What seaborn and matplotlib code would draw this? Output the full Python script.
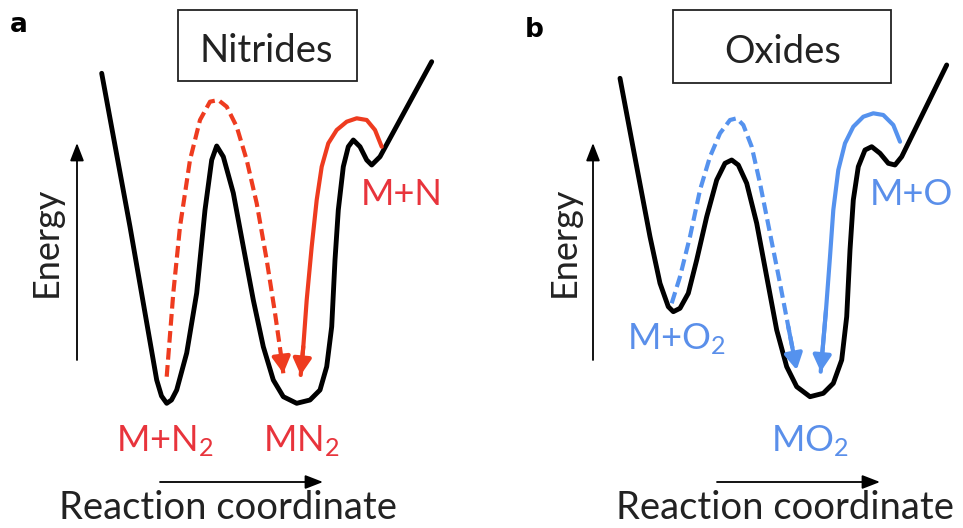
import matplotlib
matplotlib.use("Agg")
import matplotlib.pyplot as plt
import seaborn as sns
import pandas as pd
from matplotlib.patches import Rectangle

sns.set_theme(style="white")
plt.rcParams['font.family'] = ['Lato', 'DejaVu Sans']
plt.rcParams['mathtext.fontset'] = 'custom'
plt.rcParams['mathtext.rm'] = 'Lato'
plt.rcParams['mathtext.it'] = 'Lato'

# ---------------- data (schematic curves, image coordinates) ----------------
# panel a : nitrides
a_black_x = [101.7, 130, 156.7, 161.5, 166.7, 171.5, 176.7, 186.7, 196.7, 205, 211.7, 216.7, 223.3, 233.3, 243.3, 253.3, 263.3, 273.3, 283.3, 296.7, 310, 320, 326.7, 331.7, 335, 338.3, 343.3, 348.3, 353.3, 360, 366.7, 371.7, 380, 431.7]
a_black_y = [73.3, 226.7, 380, 396, 403.3, 400, 390, 353, 293, 210, 160, 146, 156.7, 193, 246.7, 300, 346.7, 380, 396.7, 403.3, 400, 390, 366.7, 326.7, 260, 210, 166.7, 146.7, 140, 146.7, 160, 165, 156.7, 61.7]
a_dash_x = [166.7, 173.3, 180, 190, 200, 210, 218.3, 226.7, 236.7, 246.7, 256.7, 266.7, 275, 281.7, 283.3]
a_dash_y = [376.7, 293, 226.7, 160, 120, 101.7, 100, 106.7, 126.7, 160, 203.3, 260, 313, 360, 373.3]
a_solid_x = [381.7, 375, 366.7, 356.7, 346.7, 336.7, 328.3, 321.7, 316.7, 311.7, 306.7, 303.3, 300.7]
a_solid_y = [146.7, 130, 120, 118.3, 121.7, 130, 143.3, 166.7, 200, 246.7, 300, 346.7, 375]

# panel b : oxides
b_black_x = [620, 636.7, 650, 660, 668.3, 673.3, 680, 688.3, 696.7, 706.7, 716.7, 725, 731.7, 738.3, 746.7, 756.7, 766.7, 776.7, 786.7, 796.7, 810, 823.3, 833.3, 841.7, 846.7, 850, 853.3, 858.3, 865, 871.7, 880, 888.3, 895, 901.7, 946.7]
b_black_y = [78.3, 166.7, 236.7, 283.3, 306.7, 311.7, 308.3, 293.3, 260, 216.7, 180, 163.3, 160, 165, 183.3, 223.3, 276.7, 330, 366.7, 386.7, 396.7, 393.3, 383.3, 360, 316.7, 250, 200, 166.7, 150, 146.7, 153.3, 163.3, 165, 156.7, 65]
b_dash_x = [671.7, 680, 690, 700, 710, 720, 730, 736.7, 743.3, 751.7, 760, 770, 780, 788.3, 796.7]
b_dash_y = [303.3, 276.7, 236.7, 190, 156.7, 133.3, 120, 118.3, 125, 146.7, 183.3, 233.3, 283.3, 326.7, 370]
b_solid_x = [900, 893.3, 883.3, 873.3, 863.3, 853.3, 845, 838.3, 833.3, 830, 826, 820.7]
b_solid_y = [141.7, 125, 115, 113.3, 116.7, 126.7, 143.3, 170, 210, 256.7, 310, 371.7]

panel_letters = ["a", "b"]
panel_titles = ["Nitrides", "Oxides"]
a_labels = ["M+N$_2$", "MN$_2$", "M+N"]
b_labels = ["M+O$_2$", "MO$_2$", "M+O"]
axis_y_label = "Energy"
axis_x_label = "Reaction coordinate"

RED = "#EE3B1F"
RED_TXT = "#E8343C"
BLUE = "#5592EE"
BLUE_TXT = "#5A8FEA"
DARK = "#222222"

W, H = 963, 528
fig = plt.figure(figsize=(W / 100, H / 100), dpi=100)
ax = fig.add_axes([0, 0, 1, 1])
ax.set_xlim(0, W)
ax.set_ylim(H, 0)
ax.axis("off")


def curve(xs, ys, color, lw, ls="-", arrow=False):
    df = pd.DataFrame({"x": xs, "y": ys})
    sns.lineplot(data=df, x="x", y="y", sort=False, estimator=None, color=color,
                 lw=lw, linestyle=ls, ax=ax, solid_capstyle="round",
                 solid_joinstyle="round", dash_capstyle="butt", legend=False)
    if arrow:
        ax.annotate("", xy=(xs[-1], ys[-1]), xytext=(xs[-2], ys[-2]),
                    arrowprops=dict(arrowstyle="-|>,head_length=0.8,head_width=0.45",
                                    color=color, lw=lw, shrinkA=0, shrinkB=0))


DASH = (0, (2.8, 1.3))
# panel a
curve(a_black_x, a_black_y, "black", 3.5)
curve(a_dash_x, a_dash_y, RED, 3.0, DASH, arrow=True)
curve(a_solid_x, a_solid_y, RED, 3.0, arrow=True)
# panel b
curve(b_black_x, b_black_y, "black", 3.5)
curve(b_dash_x, b_dash_y, BLUE, 3.0, DASH, arrow=True)
curve(b_solid_x, b_solid_y, BLUE, 3.0, arrow=True)

panels = [
    dict(off=0, letter=(10, 32), box=(178, 10, 179, 71), title_x=266.5, title_y=62,
         energy_x=46, rc=(160, 323), rc_text_x=228),
    dict(off=516, letter=(525, 37), box=(672.7, 10, 218, 72.7), title_x=782.5, title_y=63,
         energy_x=564, rc=(717, 880), rc_text_x=785),
]
for p, letter, title in zip(panels, panel_letters, panel_titles):
    off = p["off"]
    ax.annotate("", xy=(77 + off, 143), xytext=(77 + off, 360),
                arrowprops=dict(arrowstyle="-|>,head_length=0.9,head_width=0.35",
                                color="black", lw=1.3, shrinkA=0, shrinkB=0))
    ax.text(p["energy_x"], 242, axis_y_label, rotation=90, ha="center", va="center",
            fontsize=26, color=DARK)
    rx0, rx1 = p["rc"]
    ax.annotate("", xy=(rx1, 482), xytext=(rx0, 482),
                arrowprops=dict(arrowstyle="-|>,head_length=0.9,head_width=0.35",
                                color="black", lw=1.3, shrinkA=0, shrinkB=0))
    ax.text(p["rc_text_x"], 519, axis_x_label, ha="center", va="baseline",
            fontsize=27.5, color=DARK)
    ax.text(p["letter"][0], p["letter"][1], letter, ha="left", va="baseline",
            fontsize=19, fontweight="bold", family="DejaVu Sans", color="black")
    bx, by, bw, bh = p["box"]
    ax.add_patch(Rectangle((bx, by), bw, bh, fill=False, ec=DARK, lw=1.3))
    ax.text(p["title_x"], p["title_y"], title, ha="center", va="baseline",
            fontsize=27.5, color=DARK)

# species labels
lab_fs = 26
ax.text(164.5, 451, a_labels[0], ha="center", va="baseline", fontsize=lab_fs, color=RED_TXT)
ax.text(301.5, 451, a_labels[1], ha="center", va="baseline", fontsize=lab_fs, color=RED_TXT)
ax.text(401.5, 205, a_labels[2], ha="center", va="baseline", fontsize=lab_fs, color=RED_TXT)
ax.text(676, 349, b_labels[0], ha="center", va="baseline", fontsize=lab_fs, color=BLUE_TXT)
ax.text(810.5, 451, b_labels[1], ha="center", va="baseline", fontsize=lab_fs, color=BLUE_TXT)
ax.text(911, 205, b_labels[2], ha="center", va="baseline", fontsize=lab_fs, color=BLUE_TXT)

fig.savefig("out.png", dpi=100, facecolor="white")
